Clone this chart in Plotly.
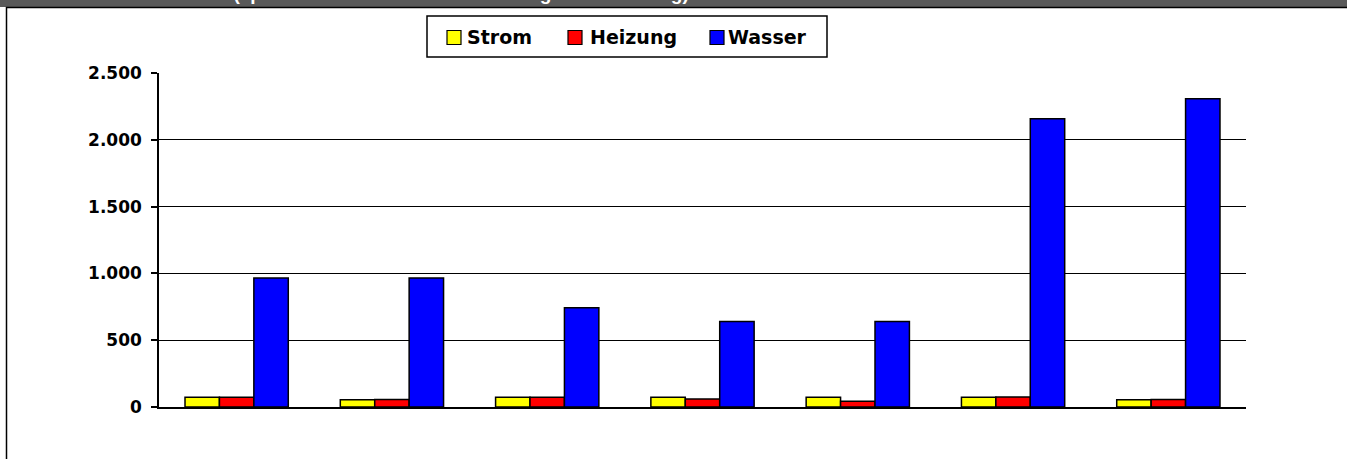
import plotly.graph_objects as go

# ---- data ----
categories = ["1", "2", "3", "4", "5", "6", "7"]
strom = [73, 55, 73, 73, 73, 73, 55]
heizung = [73, 56, 73, 60, 43, 75, 57]
wasser = [965, 965, 742, 640, 640, 2158, 2308]
series_names = ["Strom", "Heizung", "Wasser"]
tick_vals = [0, 500, 1000, 1500, 2000, 2500]
title_text = "Verbrauchswerte (spezifischer Verbrauch – Messung und Ablesung)"

W, H = 1347, 459
ML, MR, MT, MB = 159, 101, 73, 52
PW, PH = W - ML - MR, H - MT - MB


def px(x):
    return (x - ML) / PW


def py(y):
    return (H - MB - y) / PH


FONT = "DejaVu Sans"
colors = ["#FFFF00", "#FF0000", "#0000FF"]

fig = go.Figure()
for name, vals, col in zip(series_names, [strom, heizung, wasser], colors):
    fig.add_trace(go.Bar(
        x=categories, y=vals, name=name,
        marker=dict(color=col, line=dict(color="black", width=1.5)),
        hoverinfo="x+y+name", showlegend=False,
    ))

shapes = [
    # header band
    dict(type="rect", xref="paper", yref="paper",
         x0=px(-5), x1=px(W + 5), y0=py(-5), y1=py(7),
         fillcolor="#595959", line=dict(width=0), layer="below"),
    # outer frame
    dict(type="rect", xref="paper", yref="paper",
         x0=px(6.5), x1=px(W + 20), y0=py(7.5), y1=py(H + 20),
         fillcolor="rgba(0,0,0,0)", line=dict(color="black", width=1.5)),
    # legend box
    dict(type="rect", xref="paper", yref="paper",
         x0=px(427), x1=px(827), y0=py(16), y1=py(57),
         fillcolor="white", line=dict(color="black", width=1.5)),
]

annotations = [dict(
    text="<b>" + title_text + "</b>", xref="paper", yref="paper",
    x=px(73), y=py(6.5), xanchor="left", yanchor="bottom", showarrow=False,
    font=dict(family="Liberation Sans", size=19, color="white"),
)]

# legend entries (symbol squares + labels)
legend_sq_left = [447, 568, 710]
legend_txt_left = [467, 590, 728]
for name, col, sx, tx in zip(series_names, colors, legend_sq_left, legend_txt_left):
    shapes.append(dict(type="rect", xref="paper", yref="paper",
                       x0=px(sx), x1=px(sx + 14), y0=py(30.5), y1=py(44.5),
                       fillcolor=col, line=dict(color="black", width=1.2)))
    annotations.append(dict(
        text="<b>" + name + "</b>", xref="paper", yref="paper",
        x=px(tx - 2), y=py(37), xanchor="left", yanchor="middle", showarrow=False,
        font=dict(family=FONT, size=19, color="black"),
    ))

fig.update_layout(
    width=W, height=H,
    margin=dict(l=ML, r=MR, t=MT, b=MB, pad=0),
    paper_bgcolor="white", plot_bgcolor="white",
    separators=",.",
    barmode="group", bargap=0.335, bargroupgap=0,
    font=dict(family=FONT, color="black", size=17),
    showlegend=False,
    shapes=shapes,
    annotations=annotations,
    xaxis=dict(
        showline=True, linecolor="black", linewidth=1.5,
        showticklabels=False, ticks="", showgrid=False, zeroline=False,
    ),
    yaxis=dict(
        range=[0, 2500], tickvals=tick_vals, tickformat=",d",
        showline=True, linecolor="black", linewidth=1.5,
        ticks="outside", ticklen=6, tickwidth=1.5, tickcolor="black",
        ticklabelstandoff=6,
        showgrid=True, gridcolor="black", gridwidth=1.2, zeroline=False,
        tickfont=dict(family=FONT, size=17, color="black", weight="bold"),
    ),
)

fig.write_html(
    "out.html",
    config={"displayModeBar": False},
    post_script="document.body.style.margin='0px';document.body.style.overflow='hidden';",
)
